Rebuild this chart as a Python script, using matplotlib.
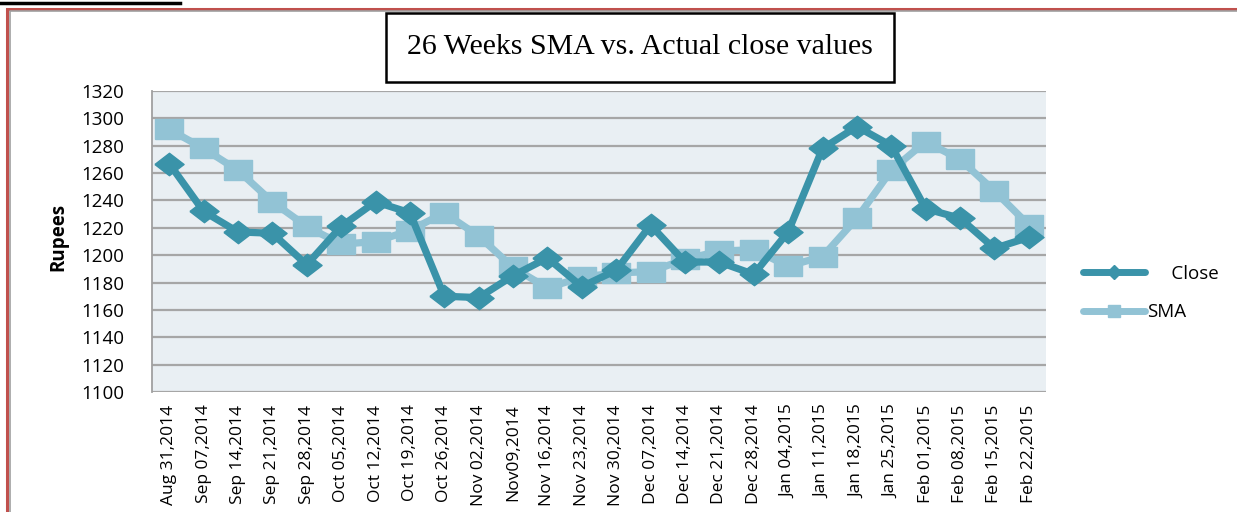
import matplotlib
matplotlib.use("Agg")
import matplotlib.pyplot as plt
from matplotlib.lines import Line2D
from matplotlib.patches import Rectangle
import numpy as np

dates = ["Aug 31,2014", "Sep 07,2014", "Sep 14,2014", "Sep 21,2014", "Sep 28,2014",
         "Oct 05,2014", "Oct 12,2014", "Oct 19,2014", "Oct 26,2014", "Nov 02,2014",
         "Nov09,2014", "Nov 16,2014", "Nov 23,2014", "Nov 30,2014", "Dec 07,2014",
         "Dec 14,2014", "Dec 21,2014", "Dec 28,2014", "Jan 04,2015", "Jan 11,2015",
         "Jan 18,2015", "Jan 25,2015", "Feb 01,2015", "Feb 08,2015", "Feb 15,2015",
         "Feb 22,2015"]
close = [1267, 1232, 1217, 1216, 1193, 1221, 1239, 1231, 1170, 1169,
         1185, 1198, 1177, 1189, 1222, 1195, 1195, 1186, 1217, 1278,
         1294, 1280, 1234, 1227, 1205, 1213]
sma = [1292, 1278, 1262, 1239, 1221, 1208, 1210, 1218, 1231, 1214,
       1191, 1176, 1184, 1187, 1188, 1197, 1203, 1204, 1192, 1199,
       1227, 1262, 1283, 1270, 1247, 1222]
yticks = list(range(1100, 1321, 20))

W, H = 1237, 512
fig = plt.figure(figsize=(W / 100, H / 100), dpi=100)
fig.patch.set_facecolor("white")

# page decorations
fig.add_artist(Line2D([0, 180 / W], [1 - 2.5 / H, 1 - 2.5 / H], transform=fig.transFigure,
                      color="black", lw=2.5))
fig.add_artist(Rectangle((7 / W, -0.1), 1.2, 1 - 8.5 / H + 0.1, transform=fig.transFigure,
                         fill=False, edgecolor="#C0504D", lw=2.2))
fig.add_artist(Line2D([9.5 / W, 9.5 / W, 1], [-0.1, 1 - 11 / H, 1 - 11 / H],
                      transform=fig.transFigure, color="#A0A0A0", lw=1.2))

ax = fig.add_axes([152 / W, (H - 392) / H, (1046 - 152) / W, (392 - 91) / H])
ax.set_facecolor("#E9EFF3")

x = np.arange(len(dates))
close_c = "#3A93A9"
sma_c = "#92C3D5"

sq = [(-1.3, -1), (1.3, -1), (1.3, 1), (-1.3, 1), (-1.3, -1)]
dm = [(-1.3, 0), (0, -1), (1.3, 0), (0, 1), (-1.3, 0)]

ax.plot(x, sma, color=sma_c, lw=5.2, marker=sq, ms=19.5, mec=sma_c, mfc=sma_c,
        solid_joinstyle="round", solid_capstyle="round", zorder=3)
ax.plot(x, close, color=close_c, lw=5.2, marker=dm, ms=21, mec=close_c, mfc=close_c,
        solid_joinstyle="round", solid_capstyle="round", zorder=4)

ax.set_xlim(-0.5, len(dates) - 0.5)
ax.set_ylim(1100, 1320)
ax.set_yticks(yticks)
ax.set_yticklabels([str(v) for v in yticks], fontsize=13.5, family="Open Sans")
ax.set_xticks(x)
ax.set_xticklabels(dates, rotation=90, fontsize=12.5, family="Open Sans")
ax.tick_params(axis="both", length=0)
ax.tick_params(axis="y", pad=20)
ax.tick_params(axis="x", pad=9)
ax.grid(axis="y", color="#A6A6A6", lw=1.6)
ax.set_axisbelow(True)
for s in ["top", "right", "bottom"]:
    ax.spines[s].set_visible(False)
ax.spines["left"].set_color("#A0A0A0")
ax.spines["left"].set_linewidth(1.3)

fig.text(58 / W, 1 - 237 / H, "Rupees", rotation=90, ha="center", va="center",
         fontsize=13.5, fontweight="bold", family="Open Sans")

# title box
fig.text(640 / W, 1 - 47 / H, "26 Weeks SMA vs. Actual close values", ha="center", va="center",
         fontsize=21.5, family="Liberation Serif",
         bbox=dict(boxstyle="square,pad=0.72", fc="white", ec="black", lw=1.8))

# legend
handles = [Line2D([], [], color=close_c, lw=5, marker="D", ms=7, solid_capstyle="round"),
           Line2D([], [], color=sma_c, lw=5, marker="s", ms=9, solid_capstyle="round")]
fig.legend(handles, ["     Close", "SMA"], loc="center left",
           bbox_to_anchor=(1066 / W, 1 - 293 / H), frameon=False, handlelength=3.3,
           handletextpad=0.1, labelspacing=1.1, prop=dict(family="Open Sans", size=13.5))

fig.savefig("out.png", dpi=100)
